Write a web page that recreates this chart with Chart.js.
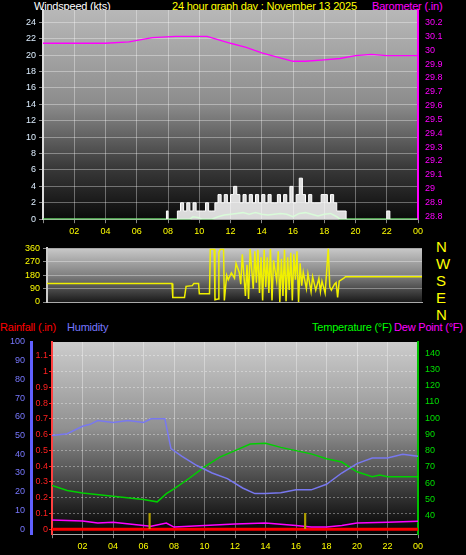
<!DOCTYPE html>
<html><head><meta charset="utf-8">
<script src="https://cdn.jsdelivr.net/npm/chart.js@4"></script>
<style>
body{margin:0;background:#000;width:466px;height:555px;overflow:hidden;position:relative;font-family:"Liberation Sans",Arial,sans-serif}
canvas{position:absolute;left:0}
.t{position:absolute;font-size:11px;white-space:nowrap;line-height:12px;letter-spacing:-0.2px}
</style></head><body>
<div class="t" style="left:34px;top:0;color:#fff">Windspeed (kts)</div>
<div class="t" style="left:172px;top:0;color:#ffff00">24 hour graph day : November 13 2025</div>
<div class="t" style="left:372px;top:0;color:#ff00ff">Barometer (.in)</div>
<div class="t" style="left:0;top:321px;color:#ff0000">Rainfall (.in)</div>
<div class="t" style="left:67px;top:321px;color:#7777ff">Humidity</div>
<div class="t" style="left:312px;top:321px;color:#00ff00">Temperature (°F)</div>
<div class="t" style="left:394px;top:321px;color:#ff00ff">Dew Point (°F)</div>
<div class="t" style="left:436px;top:238px;color:#ffff00;font-size:15px;line-height:17px">N<br>W<br>S<br>E<br>N</div>
<canvas id="c1" width="466" height="240" style="top:0"></canvas>
<canvas id="c2" width="430" height="80" style="top:240px"></canvas>
<canvas id="c3" width="466" height="235" style="top:320px"></canvas>
<script>
// ---- data ----
const baroTimes=[0,2,4,5.5,7,8.5,10.5,12,13,14,15,16,16.8,18,19,20,21,22,23,24];
const baroValues=[30.05,30.05,30.05,30.06,30.09,30.1,30.1,30.05,30.02,29.98,29.95,29.92,29.92,29.93,29.94,29.96,29.97,29.96,29.96,29.96];
const gustTimes=[0,7.9,8.0,8.1,8.6,8.8,9.0,9.2,9.4,9.6,9.8,10.0,10.2,10.4,10.6,10.8,11.0,11.2,11.4,11.6,11.8,12.0,12.2,12.4,12.6,12.8,13.0,13.2,13.4,13.6,13.8,14.0,14.2,14.4,14.6,14.8,15.0,15.2,15.4,15.6,15.8,16.0,16.2,16.4,16.6,16.8,17.0,17.2,17.4,17.6,17.8,18.0,18.2,18.4,18.6,18.8,19.0,19.2,19.4,22.0,22.2,24];
const gustValues=[0,1,0,0,1,2,1,2,1,2,1,1,1,2,1,1,2,3,2,3,2,3,4,3,2,3,2,3,2,3,2,3,2,3,2,2,3,2,3,2,4,2,3,5,3,2,3,2,2,2,3,3,2,3,2,1,1,1,0,1,0,0];
const avgTimes=[0,9.4,9.6,9.9,10.2,10.8,11.2,11.6,12,12.4,12.8,13.2,13.6,14,14.4,14.8,15.2,15.6,16,16.4,16.8,17.2,17.6,18,18.4,18.8,19,24];
const avgValues=[0,0,0.3,0.2,0,0,0.3,0.5,0.6,0.7,0.8,0.6,0.8,0.6,0.5,0.6,0.7,0.6,0.3,0.7,0.8,0.6,0.4,0.6,0.7,0.3,0,0];
const dirTimes=[0,8.0,8.05,8.8,8.9,9.3,9.4,9.7,9.75,10.4,10.45,10.7,10.75,10.95,11.0,11.1,11.3,11.35,11.5,11.6,11.8,12.0,12.1,12.3,12.4,12.5,12.7,12.8,12.9,13.0,13.2,13.3,13.4,13.5,13.6,13.7,13.8,13.9,14.0,14.1,14.2,14.3,14.4,14.5,14.7,14.8,14.9,15.0,15.1,15.2,15.3,15.4,15.5,15.6,15.7,15.8,15.9,16.0,16.1,16.2,16.3,16.4,16.6,16.7,16.9,17.0,17.2,17.4,17.5,17.6,17.8,18.0,18.1,18.2,18.4,18.5,18.6,18.7,19.0,19.1,24];
const dirValues=[125,125,30,30,105,110,125,125,55,55,355,355,15,20,335,355,355,10,180,150,195,160,260,200,120,320,40,250,20,355,90,340,130,350,60,300,10,350,100,300,60,355,10,280,140,340,0,290,40,350,5,300,80,330,10,320,150,340,0,260,110,200,90,190,70,170,80,160,70,140,60,360,100,80,120,130,30,140,160,170,170];
const humTimes=[0,1,2,2.5,3,4,5,6,6.5,7.4,7.8,8.5,9.5,10.5,11.5,12.5,13.3,14,15,16,17,18,19,20,21,22,23,24];
const humValues=[50,51,55,56,58,57,58,57,59,59,43,39,34,30,27,22,19,19,19.5,21,21,24,30,35,38,38,40,39];
const tempTimes=[0,1,2,4,6,6.9,7.5,8,9,10,11,12,13,14,15,16,17,18,19,20,21,21.5,22,24];
const tempValues=[58.5,55.5,54,52,50,48.5,53.5,56.5,63,70,76,80,84,84.5,82,80,78,75,73,67,64,65,64,64];
const dewTimes=[0,2,3,4,6,6.5,7.5,8,10,12,14,16,17,18,19,20,22,24];
const dewValues=[37.3,36.7,35.5,36,34,33.5,35.5,33,34,34.8,35.5,34,33,33,34,35.5,36,36.5];
const rainTimes=[0,24];
const rainValues=[0,0];
const markTimes=[6.4,16.6];
const markValues=[0.1,0.1];
const hourTicks=[0,2,4,6,8,10,12,14,16,18,20,22,24];

const pts=(t,v)=>t.map((x,i)=>({x:x,y:v[i]}));
function bg(stops){return {id:'bg',beforeDraw(c){const a=c.chartArea,g=c.ctx.createLinearGradient(0,a.top,0,a.bottom);stops.forEach(s=>g.addColorStop(s[0],s[1]));c.ctx.save();c.ctx.fillStyle=g;c.ctx.fillRect(a.left,a.top,a.width,a.height);c.ctx.restore();}};}
const grid={color:'rgba(255,255,255,0.35)',borderDash:[1,2],drawTicks:true,tickLength:4,tickColor:'#888'};
const xAxis=(show)=>({type:'linear',min:0,max:24,offset:false,afterBuildTicks:s=>{s.ticks=hourTicks.map(v=>({value:v}));},
  grid:Object.assign({},grid,{offset:false}),border:{color:'#aaa'},
  ticks:{display:show,autoSkip:false,color:'#ffff00',font:{size:9},maxRotation:0,callback:v=>v===0?'':String(v%24).padStart(2,'0')}});
const base={responsive:false,animation:false,plugins:{legend:{display:false},tooltip:{enabled:false}},elements:{point:{radius:0},line:{borderWidth:1.3,tension:0}}};
const yt=(size,color)=>({color:color,font:{size:size},autoSkip:false});

new Chart(document.getElementById('c1'),{type:'line',
 data:{datasets:[
  {data:pts(baroTimes,baroValues),borderColor:'#ff00ff',yAxisID:'yb'},
  {data:pts(gustTimes,gustValues),borderColor:'#ffffff',backgroundColor:'rgba(255,255,255,0.85)',fill:'origin',stepped:true,yAxisID:'y',borderWidth:1},
  {data:pts(avgTimes,avgValues),borderColor:'#00e000',yAxisID:'y',borderWidth:1.5}
 ]},
 options:Object.assign({},base,{layout:{padding:{top:10}},scales:{
  x:xAxis(true),
  y:{position:'left',min:0,max:25.5,afterFit:s=>{s.width=43},afterBuildTicks:s=>{s.ticks=[0,2,4,6,8,10,12,14,16,18,20,22,24].map(v=>({value:v}))},
     ticks:yt(9,'#ddeeff'),grid:Object.assign({},grid),border:{color:'#ddd',width:2}},
  yb:{position:'right',min:28.78,max:30.29,afterFit:s=>{s.width=48},afterBuildTicks:s=>{s.ticks=[28.8,28.9,29,29.1,29.2,29.3,29.4,29.5,29.6,29.7,29.8,29.9,30,30.1,30.2].map(v=>({value:v}))},
     ticks:Object.assign(yt(9,'#ff00ff'),{callback:v=>String(Math.round(v*10)/10)}),grid:{display:false,tickColor:'#ff00ff',tickLength:4},border:{color:'#ff00ff',width:2}}
 }}),
 plugins:[bg([[0,'#b8b8b8'],[0.45,'#8c8c8c'],[0.75,'#3a3a3a'],[1,'#0a0a0a']])]
});

new Chart(document.getElementById('c2'),{type:'line',
 data:{datasets:[{data:pts(dirTimes,dirValues),borderColor:'#f0f000',borderWidth:1.5}]},
 options:Object.assign({},base,{layout:{padding:{top:6,right:8,bottom:10}},scales:{
  x:Object.assign(xAxis(false),{display:true,ticks:{display:false},grid:{display:false}}),
  y:{min:0,max:360,afterFit:s=>{s.width=47},afterBuildTicks:s=>{s.ticks=[0,90,180,270,360].map(v=>({value:v}))},
     ticks:yt(9,'#ffff00'),grid:Object.assign({},grid),border:{color:'#ccc',width:2}}
 }}),
 plugins:[bg([[0,'#c8c8c8'],[0.5,'#808080'],[1,'#1a1a1a']])]
});

new Chart(document.getElementById('c3'),{
 data:{datasets:[
  {type:'bar',data:pts(markTimes,markValues),backgroundColor:'#b0a000',yAxisID:'yr',barThickness:1.5},
  {type:'line',data:pts(humTimes,humValues),borderColor:'#7878f0',yAxisID:'yh',borderWidth:1.5},
  {type:'line',data:pts(tempTimes,tempValues),borderColor:'#00d000',yAxisID:'yt',borderWidth:1.5},
  {type:'line',data:pts(dewTimes,dewValues),borderColor:'#ff00ff',yAxisID:'yt',borderWidth:1.5},
  {type:'line',data:pts(rainTimes,rainValues),borderColor:'#ff0000',yAxisID:'yr',borderWidth:3}
 ]},
 options:Object.assign({},base,{layout:{padding:{top:22}},scales:{
  x:xAxis(true),
  yr:{position:'left',weight:1,min:-0.032,max:1.188,afterFit:s=>{s.width=21},afterBuildTicks:s=>{s.ticks=[0,0.1,0.2,0.3,0.4,0.5,0.6,0.7,0.8,0.9,1,1.1].map(v=>({value:v}))},
     ticks:Object.assign(yt(9,'#ff2020'),{padding:1,callback:v=>String(Math.round(v*10)/10)}),grid:Object.assign({},grid,{tickColor:'#ff2020',tickLength:3}),border:{color:'#ff4040',width:2,dash:[2,2]}},
  yh:{position:'left',weight:2,min:-2.7,max:100,afterFit:s=>{s.width=31},afterBuildTicks:s=>{s.ticks=[0,10,20,30,40,50,60,70,80,90,100].map(v=>({value:v}))},
     ticks:Object.assign(yt(9,'#7878ff'),{padding:2}),grid:{display:false,tickColor:'#7878ff',tickLength:4},border:{color:'#6060ff',width:3}},
  yt:{position:'right',min:28.6,max:146.8,afterFit:s=>{s.width=48},afterBuildTicks:s=>{s.ticks=[40,50,60,70,80,90,100,110,120,130,140].map(v=>({value:v}))},
     ticks:yt(9,'#00e000'),grid:{display:false,tickColor:'#00e000',tickLength:4},border:{color:'#00c000',width:2}}
 }}),
 plugins:[bg([[0,'#cccccc'],[0.45,'#909090'],[0.75,'#404040'],[1,'#000']])]
});
</script></body></html>
